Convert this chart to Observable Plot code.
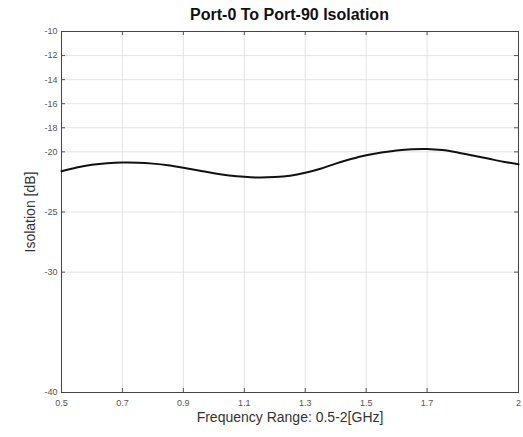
<!DOCTYPE html>
<html>
<head>
<meta charset="utf-8">
<script src="https://cdn.jsdelivr.net/npm/d3@7"></script>
<script src="https://cdn.jsdelivr.net/npm/@observablehq/plot@0.6"></script>
<style>
  html, body { margin: 0; padding: 0; background: #fff; }
  #wrap { width: 523px; height: 437px; position: relative; font-family: "Liberation Sans", Arial, sans-serif; }
  #title { position: absolute; left: 61px; width: 457px; top: 3px; height: 24px; line-height: 24px; text-align: center; font-weight: bold; font-size: 16px; color: #111; }
  #chart { position: absolute; left: 0; top: 24px; }
</style>
</head>
<body>
<div id="wrap">
  <div id="title">Port-0 To Port-90 Isolation</div>
  <div id="chart"></div>
</div>
<script>
const freq = [0.5, 0.55, 0.6, 0.65, 0.7, 0.75, 0.8, 0.85, 0.9, 0.95, 1.0, 1.05, 1.1, 1.15, 1.2, 1.25, 1.3, 1.35, 1.4, 1.45, 1.5, 1.55, 1.6, 1.65, 1.7, 1.75, 1.8, 1.85, 1.9, 1.95, 2.0];
const isolation = [-21.61, -21.3, -21.08, -20.95, -20.89, -20.9, -20.98, -21.12, -21.33, -21.55, -21.78, -21.96, -22.08, -22.14, -22.1, -21.98, -21.74, -21.4, -20.98, -20.6, -20.28, -20.05, -19.88, -19.78, -19.76, -19.85, -20.05, -20.3, -20.56, -20.82, -21.03];
const xTicks = [0.5, 0.7, 0.9, 1.1, 1.3, 1.5, 1.7, 2];
const yTicks = [-10, -12, -14, -16, -18, -20, -25, -30, -40];
const xLabel = "Frequency Range: 0.5-2[GHz]";
const yLabel = "Isolation [dB]";

const data = freq.map((f, i) => ({f, v: isolation[i]}));

const W = 523, H = 413;
const mT = 7, mB = 45, mL = 61, mR = 5;
const plotW = W - mL - mR, plotH = H - mT - mB;
const tl = 4;
const fmt = d => String(d);

const chart = Plot.plot({
  width: W,
  height: H,
  marginTop: mT,
  marginBottom: mB,
  marginLeft: mL,
  marginRight: mR,
  style: { fontFamily: "'Liberation Sans', Arial, sans-serif", background: "#fff" },
  x: { domain: [0.5, 2], ticks: xTicks, tickFormat: fmt, label: null },
  y: { domain: [-40, -10], ticks: yTicks, tickFormat: fmt, label: null },
  marks: [
    Plot.gridX(xTicks, { stroke: "#ddd", strokeOpacity: 1, strokeWidth: 0.8 }),
    Plot.gridY(yTicks, { stroke: "#ddd", strokeOpacity: 1, strokeWidth: 0.8 }),
    // inward ticks
    Plot.tickX(xTicks, { x: d => d, stroke: "#555", insetTop: plotH - tl }),
    Plot.tickX(xTicks, { x: d => d, stroke: "#555", insetBottom: plotH - tl }),
    Plot.tickY(yTicks, { y: d => d, stroke: "#555", insetRight: plotW - tl }),
    Plot.tickY(yTicks, { y: d => d, stroke: "#555", insetLeft: plotW - tl }),
    Plot.frame({ stroke: "#444", strokeWidth: 1 }),
    Plot.axisX(xTicks, { tickSize: 0, tickPadding: 7, fontSize: 9, fill: "#555", label: null, tickFormat: fmt }),
    Plot.axisY(yTicks, { tickSize: 0, tickPadding: 4, fontSize: 9, fill: "#555", label: null, tickFormat: fmt }),
    Plot.text([xLabel], { frameAnchor: "bottom", dy: 29, fontSize: 14, fill: "#333" }),
    Plot.text([yLabel], { frameAnchor: "left", dx: -31, rotate: -90, textAnchor: "middle", fontSize: 14, fill: "#333" }),
    Plot.line(data, { x: "f", y: "v", stroke: "#111", strokeWidth: 2, curve: "catmull-rom" })
  ]
});
document.getElementById("chart").appendChild(chart);
</script>
</body>
</html>
